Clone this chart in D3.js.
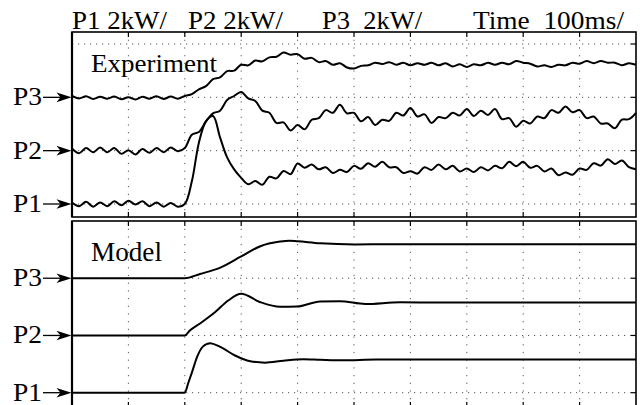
<!DOCTYPE html>
<html><head><meta charset="utf-8">
<script src="https://cdn.jsdelivr.net/npm/d3@7"></script>
<style>body{margin:0;background:#fff}svg{display:block}text{font-family:"Liberation Serif","Times New Roman",serif;fill:#000}</style>
</head><body><svg id="c" width="640" height="405"></svg>
<script>
// ---- data ----
const headerLabels = ["P1 2kW/", "P2 2kW/", "P3  2kW/", "Time  100ms/"];
const traceNames = ["P1", "P2", "P3"];
const timeTicks = [0,100,200,300,400,500,600,700,800,900,1000];           // ms
const levelTicks = [0,2,4,6];                                             // kW (2 kW/div)
const timeExp = [0,12.5,25,37.5,50,62.5,75,87.5,100,112.5,125,137.5,150,162.5,175,187.5,
  200,212.5,225,237.5,250,262.5,275,287.5,300,312.5,325,337.5,350,362.5,375,387.5,
  400,412.5,425,437.5,450,462.5,475,487.5,500,512.5,525,537.5,550,562.5,575,587.5,
  600,612.5,625,637.5,650,662.5,675,687.5,700,712.5,725,737.5,750,762.5,775,787.5,
  800,812.5,825,837.5,850,862.5,875,887.5,900,912.5,925,937.5,950,962.5,975,987.5,1000];
const expP1 = [0.05,-0.08,0.08,-0.1,0.06,-0.08,0.1,-0.05,0.12,-0.02,0.1,-0.08,0.06,-0.1,0.04,-0.1,
  0.0,0.85,2.3,3.1,3.3,2.5,1.75,1.3,
  0.98,0.74,0.86,0.72,1.02,0.96,1.24,1.12,
  1.52,1.36,1.48,1.3,1.38,1.16,1.28,1.2,
  1.43,1.32,1.53,1.4,1.58,1.38,1.38,1.16,
  1.23,1.14,1.38,1.28,1.48,1.3,1.43,1.22,
  1.33,1.2,1.38,1.26,1.43,1.34,1.58,1.42,
  1.58,1.36,1.43,1.22,1.33,1.08,1.18,1.1,
  1.33,1.28,1.53,1.44,1.68,1.5,1.63,1.38,1.3];
const expP2 = [0.08,-0.1,0.1,-0.06,0.12,-0.06,0.1,-0.12,0.02,-0.14,0.06,-0.08,0.1,-0.06,0.12,-0.02,
  0.1,0.6,0.7,1.1,1.4,1.5,1.9,2.05,
  2.2,1.96,1.86,1.5,1.42,1.04,1.06,0.76,
  0.96,0.8,1.16,1.22,1.52,1.42,1.72,1.4,
  1.42,1.1,1.26,0.96,1.16,1.12,1.42,1.32,
  1.6,1.28,1.36,1.04,1.26,1.22,1.42,1.32,
  1.56,1.3,1.5,1.34,1.56,1.18,1.22,0.9,
  1.12,1.02,1.28,1.22,1.52,1.42,1.66,1.44,
  1.52,1.22,1.28,1.02,1.02,0.84,1.16,1.18,1.42];
const expP3 = [0.05,-0.04,0.04,-0.06,0.02,-0.05,0.03,-0.07,0.0,-0.08,0.02,-0.05,0.04,-0.06,0.03,-0.05,
  0.05,0.12,0.3,0.42,0.68,0.75,0.98,1.0,1.22,1.2,1.38,1.35,1.5,1.52,1.68,1.6,
  1.62,1.45,1.48,1.32,1.36,1.22,1.28,1.12,1.08,1.18,1.2,1.3,1.25,1.32,1.22,1.3,
  1.2,1.28,1.22,1.3,1.2,1.28,1.16,1.24,1.14,1.24,1.2,1.3,1.22,1.3,1.24,1.36,
  1.3,1.26,1.16,1.2,1.14,1.22,1.2,1.3,1.26,1.36,1.28,1.36,1.3,1.3,1.2,1.28,1.22];
const timeModP1 = [0,200,206,213,222,232,245,262,289,316,342,375,410,440,480,540,700,850,1000];
const modP1     = [0,0,0.33,0.73,1.26,1.61,1.73,1.61,1.3,1.1,1.05,1.12,1.17,1.15,1.13,1.16,1.16,1.16,1.16];
const timeModP2 = [0,200,209,227,254,277,300,333,369,399,440,475,520,582,652,750,850,1000];
const modP2     = [0,0,0.17,0.42,0.82,1.22,1.46,1.17,1.0,1.01,1.19,1.2,1.1,1.16,1.15,1.15,1.15,1.15];
const timeModP3 = [0,200,227,262,300,333,369,385,400,440,502,560,650,800,1000];
const modP3     = [0,0,0.15,0.36,0.76,1.11,1.28,1.31,1.29,1.22,1.18,1.19,1.19,1.19,1.19];

// ---- drawing ----
const svg = d3.select("#c");
const x = d3.scaleLinear().domain([0,1000]).range([72,636]);
const panels = [
  {name:"Experiment", top:32, bottom:217, y:d3.scaleLinear().domain([0,6]).range([204,44]),
   time:[timeExp,timeExp,timeExp], vals:[expP1,expP2,expP3], curve:d3.curveCatmullRom.alpha(0.5),
   title:{x:91, y:71.5, w:126, fs:26}},
  {name:"Model", top:221, bottom:407, y:d3.scaleLinear().domain([0,6]).range([392.7,221]),
   time:[timeModP1,timeModP2,timeModP3], vals:[modP1,modP2,modP3], curve:d3.curveMonotoneX,
   title:{x:91, y:261, w:71, fs:27}}
];
const offsets = [0,2,4];

panels.forEach(p => {
  const g = svg.append("g");
  const hLevels = levelTicks.filter(v=>p.y(v)>p.top+3 && p.y(v)<p.bottom-3);
  // grid
  g.selectAll(".vg").data(timeTicks.slice(1,-1)).join("line")
    .attr("x1", d=>x(d)).attr("x2", d=>x(d)).attr("y1", p.top).attr("y2", p.bottom)
    .attr("stroke","#555").attr("stroke-width",1).attr("stroke-dasharray","1.2,6.5");
  g.selectAll(".hg").data(hLevels).join("line")
    .attr("x1", 72).attr("x2", 636).attr("y1", d=>p.y(d)).attr("y2", d=>p.y(d))
    .attr("stroke","#555").attr("stroke-width",1).attr("stroke-dasharray","1.2,4.8");
  // frame
  g.append("rect").attr("x",72).attr("y",p.top).attr("width",564).attr("height",p.bottom-p.top)
    .attr("fill","none").attr("stroke","#000").attr("stroke-width",1.6);
  g.append("line").attr("x1",72).attr("x2",72).attr("y1",p.top).attr("y2",p.bottom)
    .attr("stroke","#000").attr("stroke-width",2.2);
  // border ticks
  timeTicks.slice(1,-1).forEach(t => {
    g.append("line").attr("x1",x(t)).attr("x2",x(t)).attr("y1",p.top).attr("y2",p.top+5).attr("stroke","#000").attr("stroke-width",1.2);
    g.append("line").attr("x1",x(t)).attr("x2",x(t)).attr("y1",p.bottom-5).attr("y2",p.bottom).attr("stroke","#000").attr("stroke-width",1.2);
  });
  hLevels.forEach(v => {
    g.append("line").attr("x1",631).attr("x2",636).attr("y1",p.y(v)).attr("y2",p.y(v)).attr("stroke","#000").attr("stroke-width",1.2);
  });
  // traces
  p.vals.forEach((vals,i) => {
    const pts = vals.map((v,k)=>[p.time[i][k], v+offsets[i]]);
    g.append("path").datum(pts)
      .attr("d", d3.line().x(d=>x(d[0])).y(d=>p.y(d[1])).curve(p.curve))
      .attr("fill","none").attr("stroke","#000").attr("stroke-width",2).attr("stroke-linejoin","round");
  });
  // title
  g.append("text").attr("x",p.title.x).attr("y",p.title.y).attr("font-size",p.title.fs)
    .attr("textLength",p.title.w).attr("lengthAdjust","spacingAndGlyphs").text(p.name);
  // labels with arrows
  traceNames.forEach((n,i) => {
    const yy = p.y(offsets[i]);
    g.append("text").attr("x",13).attr("y",yy+8).attr("font-size",25)
      .attr("textLength",29).attr("lengthAdjust","spacingAndGlyphs").text(n);
    g.append("line").attr("x1",43).attr("x2",62).attr("y1",yy).attr("y2",yy).attr("stroke","#000").attr("stroke-width",1.3);
    g.append("path").attr("d",`M71.5,${yy} L56.5,${yy-4.8} L60.5,${yy} L56.5,${yy+4.8} Z`).attr("fill","#000");
  });
});

// header
const headerPos = [[72,95],[188,95],[322,100],[473,151]];
svg.selectAll(".hd").data(headerLabels).join("text")
  .attr("x",(d,i)=>headerPos[i][0]).attr("y",28.5).attr("font-size",25)
  .attr("textLength",(d,i)=>headerPos[i][1]).attr("lengthAdjust","spacingAndGlyphs")
  .attr("xml:space","preserve").style("white-space","pre").text(d=>d);
</script></body></html>
